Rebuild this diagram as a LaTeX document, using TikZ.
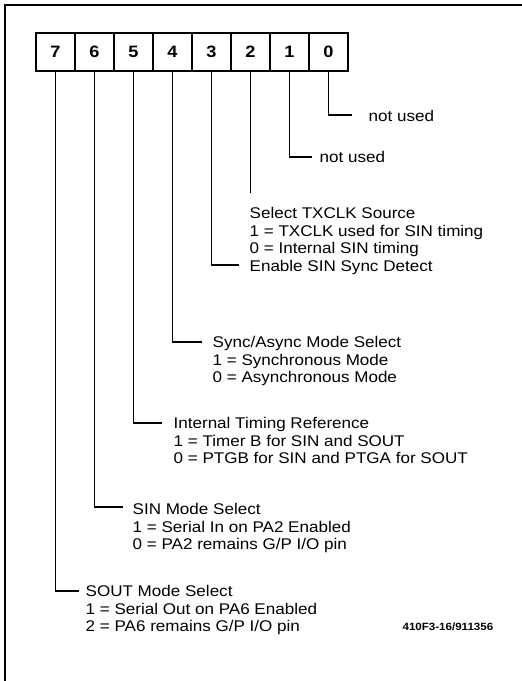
\documentclass[tikz,border=0pt]{standalone}
\usepackage{fontspec}
\setmainfont{Liberation Sans}[FakeStretch=1.1]
\begin{document}
\begin{tikzpicture}[x=1pt,y=-1pt,line width=1.3pt,
  bitbox/.style={draw,line width=1.3pt,minimum width=39pt,minimum height=38pt,inner sep=0pt,
    font=\fontsize{16.5}{18}\selectfont\bfseries},
  lbl/.style={anchor=north west,inner sep=0pt,align=left,
    font=\fontsize{15.5}{17.7}\selectfont},
  idlbl/.style={anchor=west,inner sep=0pt,font=\fontsize{10.5}{12}\selectfont\bfseries},
  wire/.style={line width=1.3pt}]
\useasboundingbox (0,0) rectangle (522,681);
% frame (top and left edges)
\draw[line width=1.4pt] (4,5) -- (522,5);
\draw[line width=1.4pt] (5,5) -- (5,681);
% bit boxes
\foreach \i in {7,...,0}
  \node[bitbox] (b\i) at ({55.5+(7-\i)*39},52) {\i};
% line end coordinates
\coordinate (e0) at (352,115);
\coordinate (e1) at (312,157);
\coordinate (e2) at (250.5,193);
\coordinate (e3) at (239,265);
\coordinate (e4) at (202,342);
\coordinate (e5) at (162,423);
\coordinate (e6) at (123,507);
\coordinate (e7) at (79,591);
% labels
\node[lbl] (l0) at (368,109.5) {not used};
\node[lbl] (l1) at (319,150.5) {not used};
\node[lbl] (l2) at (249,206.5) {Select TXCLK Source\\1 = TXCLK used for SIN timing\\0 = Internal SIN timing};
\node[lbl] (l3) at (249,259.5) {Enable SIN Sync Detect};
\node[lbl] (l4) at (212,335.5) {Sync/Async Mode Select\\1 = Synchronous Mode\\0 = Asynchronous Mode};
\node[lbl] (l5) at (173,416.5) {Internal Timing Reference\\1 = Timer B for SIN and SOUT\\0 = PTGB for SIN and PTGA for SOUT};
\node[lbl] (l6) at (132,502.5) {SIN Mode Select\\1 = Serial In on PA2 Enabled\\0 = PA2 remains G/P I/O pin};
\node[lbl] (l7) at (85,584.5) {SOUT Mode Select\\1 = Serial Out on PA6 Enabled\\2 = PA6 remains G/P I/O pin};
\node[idlbl] (id) at (402,627) {410F3-16/911356};
% connectors
\draw[wire] (b0.south) |- (e0);
\draw[wire] (b1.south) |- (e1);
\draw[wire] (b2.south) -- (e2);
\draw[wire] (b3.south) |- (e3);
\draw[wire] (b4.south) |- (e4);
\draw[wire] (b5.south) |- (e5);
\draw[wire] (b6.south) |- (e6);
\draw[wire] (b7.south) |- (e7);
\end{tikzpicture}
\end{document}
